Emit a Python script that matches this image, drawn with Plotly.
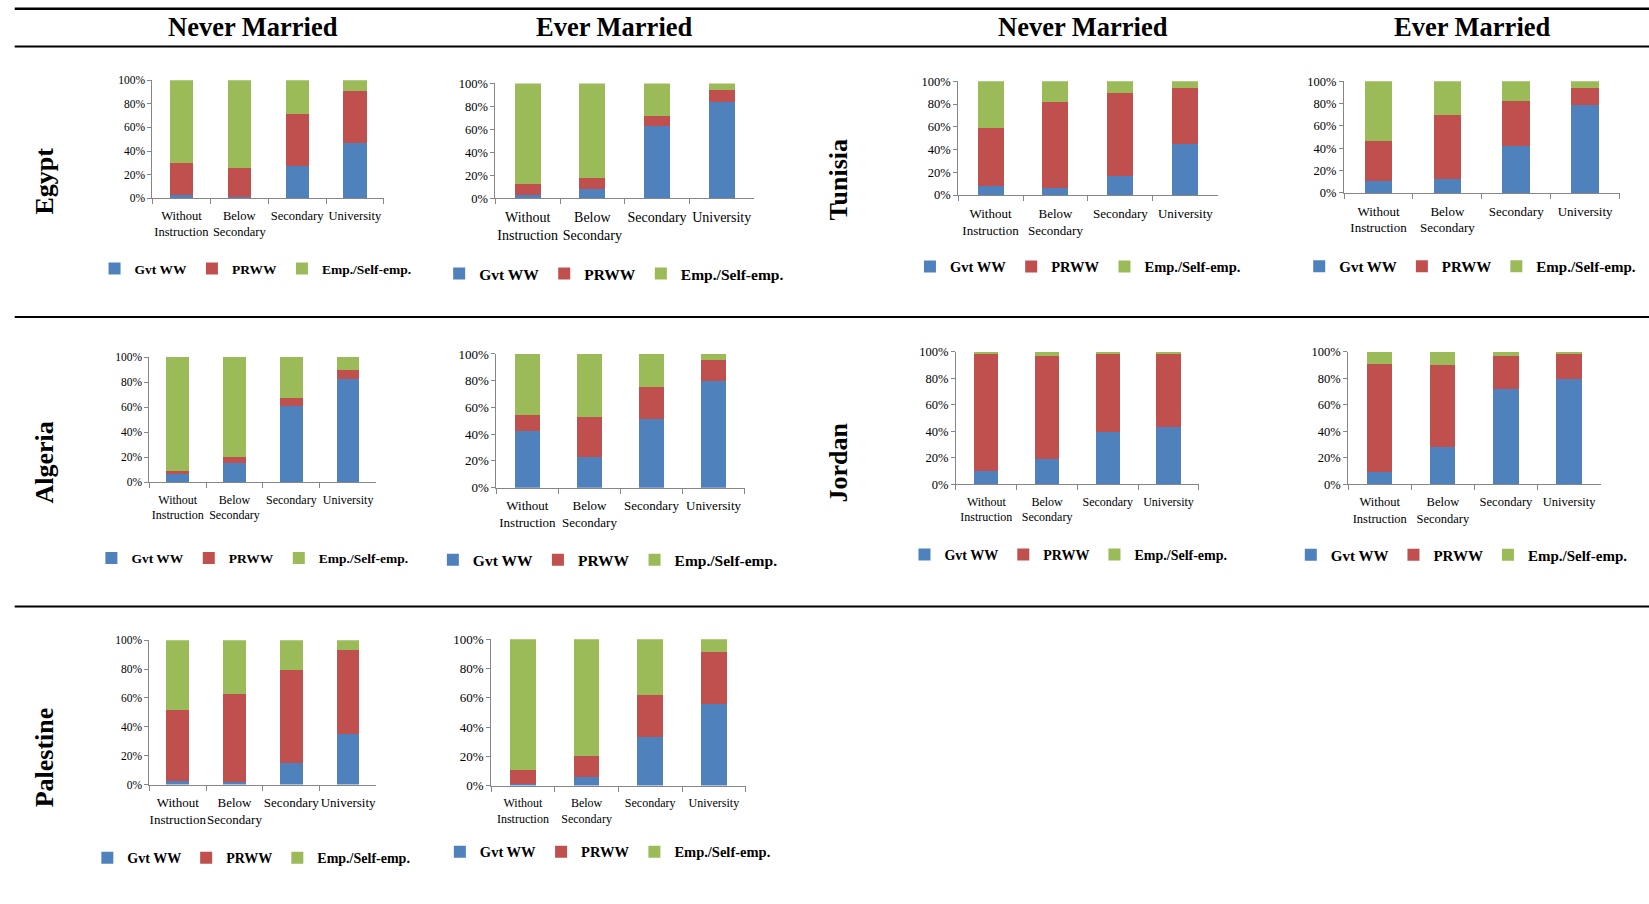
import plotly.graph_objects as go

# ---------------- data (percent) ----------------
categories = ["Without<br>Instruction", "Below<br>Secondary", "Secondary", "University"]
series_names = ["Gvt WW", "PRWW", "Emp./Self-emp."]
series_colors = ["#4F81BD", "#C0504D", "#9BBB59"]

egypt_never_gvt = [3, 1, 27, 47]
egypt_never_prww = [27, 25, 44, 43.5]
egypt_never_emp = [70, 74, 29, 9.5]

egypt_ever_gvt = [3, 7.6, 63, 83.6]
egypt_ever_prww = [9.6, 10.2, 8.4, 10.6]
egypt_ever_emp = [87.4, 82.2, 28.6, 5.8]

tunisia_never_gvt = [8.3, 6.2, 16.3, 44.7]
tunisia_never_prww = [50.3, 75.2, 73, 49.7]
tunisia_never_emp = [41.4, 18.6, 10.7, 5.6]

tunisia_ever_gvt = [10.6, 12.7, 42, 78.6]
tunisia_ever_prww = [35.9, 57.4, 40.5, 15.7]
tunisia_ever_emp = [53.5, 29.9, 17.5, 5.7]

algeria_never_gvt = [6.8, 15.1, 60.8, 82.2]
algeria_never_prww = [2.6, 5.5, 6.6, 7.4]
algeria_never_emp = [90.6, 79.4, 32.6, 10.4]

algeria_ever_gvt = [42.6, 22.8, 51, 80]
algeria_ever_prww = [11.6, 29.7, 24.2, 15.8]
algeria_ever_emp = [45.8, 47.5, 24.8, 4.2]

jordan_never_gvt = [10.2, 19.5, 39.3, 43.4]
jordan_never_prww = [88.3, 77.2, 59.2, 55.1]
jordan_never_emp = [1.5, 3.3, 1.5, 1.5]

jordan_ever_gvt = [9.4, 28.4, 71.8, 79.4]
jordan_ever_prww = [81.7, 62, 25.2, 19.1]
jordan_ever_emp = [8.9, 9.6, 3, 1.5]

palestine_never_gvt = [2.5, 1.4, 15.2, 34.8]
palestine_never_prww = [48.9, 61.5, 64.1, 58.3]
palestine_never_emp = [48.6, 37.1, 20.7, 6.9]

palestine_ever_gvt = [0.9, 5.9, 33.4, 55.7]
palestine_ever_prww = [9.8, 14.3, 28.4, 35.7]
palestine_ever_emp = [89.3, 79.8, 38.2, 8.6]

y_tick_values = [0, 20, 40, 60, 80, 100]
y_tick_labels = ["0%", "20%", "40%", "60%", "80%", "100%"]

panel_data = [
    (egypt_never_gvt, egypt_never_prww, egypt_never_emp),
    (egypt_ever_gvt, egypt_ever_prww, egypt_ever_emp),
    (tunisia_never_gvt, tunisia_never_prww, tunisia_never_emp),
    (tunisia_ever_gvt, tunisia_ever_prww, tunisia_ever_emp),
    (algeria_never_gvt, algeria_never_prww, algeria_never_emp),
    (algeria_ever_gvt, algeria_ever_prww, algeria_ever_emp),
    (jordan_never_gvt, jordan_never_prww, jordan_never_emp),
    (jordan_ever_gvt, jordan_ever_prww, jordan_ever_emp),
    (palestine_never_gvt, palestine_never_prww, palestine_never_emp),
    (palestine_ever_gvt, palestine_ever_prww, palestine_ever_emp),
]

# ---------------- layout geometry (reference units 1568 x 860) ----------------
RW, RH = 1568.0, 860.0
def fx(x):
    return x / RW
def fy(y):
    return 1 - (y - 7.4) / (0.982 * RH)

# x0, x1, y_zero, y_full, legend_y, legend_xc, tick_size, cat_size, legend_size
panels = [
    (145, 365, 189, 77, 256, 243, 11.5, 12.5, 13.5),
    (471, 717, 189, 80, 261, 584, 12.5, 14, 15.5),
    (911, 1158, 186, 78, 254, 1025, 12.5, 13, 14.5),
    (1278, 1540, 184, 78, 254, 1398, 12.5, 13, 15),
    (142, 358, 459, 340, 531, 240, 11.5, 12, 13.5),
    (472, 708, 464, 337, 533, 578, 13, 13, 15.5),
    (909, 1140, 461, 335, 528, 1016, 12.5, 12, 14),
    (1282, 1522, 461, 335, 528, 1390, 12.5, 12.5, 15),
    (142, 358, 746, 609, 816, 239, 11.5, 13, 14),
    (467, 709, 747, 608, 810, 578, 13, 12, 14.5),
]

SERIF = "Liberation Serif, Times New Roman, serif"

fig = go.Figure()
layout_updates = {}

for i, (vals, geo) in enumerate(zip(panel_data, panels)):
    n = i + 1
    sfx = "" if n == 1 else str(n)
    x0, x1, yz, yf, ly, lxc, tsz, csz, lsz = geo
    leg_name = "legend" + sfx
    for s, (name, col) in enumerate(zip(series_names, series_colors)):
        fig.add_trace(go.Bar(
            x=categories, y=vals[s], name=name,
            marker=dict(color=col, line=dict(width=0)),
            xaxis="x" + sfx, yaxis="y" + sfx,
            legend=leg_name, showlegend=True,
            hovertemplate="%{x}: %{y}%<extra>" + name + "</extra>",
        ))
    layout_updates["xaxis" + sfx] = dict(
        domain=[fx(x0), fx(x1)], anchor="y" + sfx,
        type="category", categoryorder="array", categoryarray=categories,
        showline=True, linecolor="#868686", linewidth=1,
        ticks="outside", ticklen=5, tickcolor="#868686", tickson="boundaries",
        tickangle=0, ticklabelstandoff=6,
        showgrid=False, zeroline=False, fixedrange=True,
        tickfont=dict(family=SERIF, size=csz, color="#000000"),
    )
    layout_updates["yaxis" + sfx] = dict(
        domain=[fy(yz), fy(yf)], anchor="x" + sfx,
        range=[0, 100], tickmode="array",
        tickvals=y_tick_values, ticktext=y_tick_labels,
        showline=True, linecolor="#868686", linewidth=1,
        ticks="outside", ticklen=4, tickcolor="#868686",
        showgrid=False, zeroline=False, fixedrange=True,
        tickfont=dict(family=SERIF, size=tsz, color="#000000"),
    )
    layout_updates[leg_name] = dict(
        orientation="h", x=fx(lxc), y=fy(ly), xanchor="center", yanchor="middle",
        traceorder="normal", bgcolor="rgba(0,0,0,0)",
        font=dict(family=SERIF, size=lsz, color="#000000", weight="bold"),
        itemwidth=30, itemclick=False, itemdoubleclick=False,
    )

fig.update_layout(**layout_updates)

# header texts
headers = [("Never Married", 241), ("Ever Married", 584), ("Never Married", 1030), ("Ever Married", 1400)]
annotations = []
for txt, xc in headers:
    annotations.append(dict(
        text="<b>" + txt + "</b>", x=fx(xc), y=fy(26), xref="paper", yref="paper",
        xanchor="center", yanchor="middle", showarrow=False,
        font=dict(family=SERIF, size=26.5, color="#000000"),
    ))

countries = [("Egypt", 42, 173), ("Tunisia", 797, 172), ("Algeria", 42, 440),
             ("Jordan", 797, 440), ("Palestine", 42, 720)]
for txt, xc, yc in countries:
    annotations.append(dict(
        text="<b>" + txt + "</b>", x=fx(xc), y=fy(yc), xref="paper", yref="paper",
        xanchor="center", yanchor="middle", showarrow=False, textangle=-90,
        font=dict(family=SERIF, size=26, color="#000000"),
    ))

shapes = []
for yl, w in [(9, 2.5), (45, 2), (302, 2), (577, 2)]:
    shapes.append(dict(type="line", xref="paper", yref="paper",
                       x0=fx(14), x1=1.0, y0=fy(yl), y1=fy(yl),
                       line=dict(color="#000000", width=w)))

fig.update_layout(
    width=1649, height=904,
    margin=dict(l=0, r=0, t=0, b=0),
    paper_bgcolor="white", plot_bgcolor="white",
    barmode="stack", bargap=0.6,
    annotations=annotations, shapes=shapes,
    font=dict(family=SERIF, color="#000000"),
)

fig.write_html(
    "out.html",
    config={"displayModeBar": False},
    post_script="document.body.style.margin='0';document.body.style.overflow='hidden';",
)
